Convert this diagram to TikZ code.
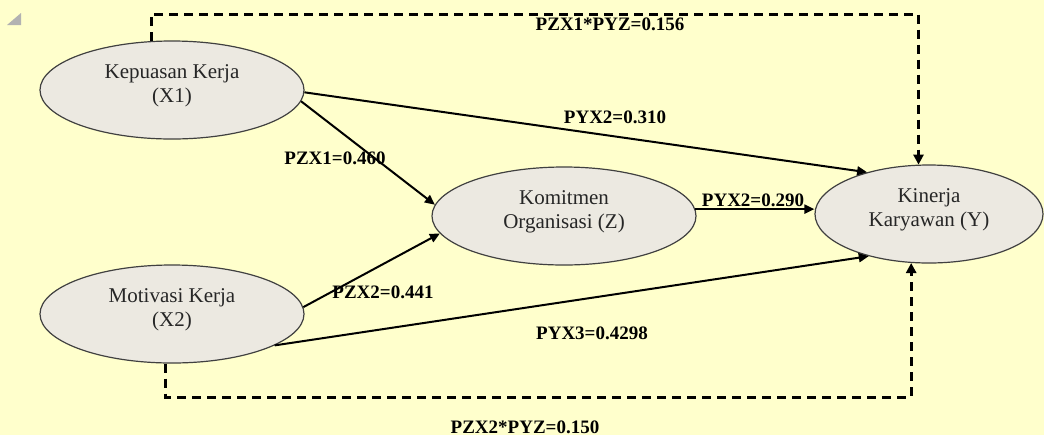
\documentclass[tikz,border=0pt]{standalone}
\usepackage{fontspec}
\setmainfont{Liberation Serif}
\usetikzlibrary{shapes.geometric,positioning,arrows.meta}
\definecolor{paleyellow}{RGB}{255,255,204}
\definecolor{ovalgrey}{RGB}{236,233,225}
\tikzset{
    varoval/.style={
        ellipse,
        draw=black!75,
        line width=0.6pt,
        fill=ovalgrey,
        minimum width=132pt,
        minimum height=49pt,
        inner sep=0pt,
        text depth=6.5pt,
        align=center,
        text=black!85,
        font=\fontsize{10.5}{12}\selectfont
    },
    patharrow/.style={
        line width=1pt,
        black,
        -{Triangle[length=5pt, width=4.5pt]}
    },
    % dashed indirect paths
    dasharrow/.style={
        line width=1.5pt,
        black,
        dash pattern=on 4.5pt off 3pt,
        -{Triangle[length=5pt, width=5pt]}
    },
    coef/.style={
        font=\fontsize{9.5}{11}\selectfont\bfseries,
        inner sep=0pt
    }
}

\begin{document}
\begin{tikzpicture}[x=0.5pt,y=-0.5pt]
    \useasboundingbox (0,0) rectangle (1044,435);
    \fill[paleyellow] (0,0) rectangle (1044,435);
    \fill[black!30] (7,25) -- (21,25) -- (21,13) -- cycle;

    \node[varoval] (x1) at (172,90) {Kepuasan Kerja\\(X1)};
    \node[varoval] (x2) at (172,314) {Motivasi Kerja\\(X2)};
    \node[varoval] (z) at (564,216) {Komitmen\\Organisasi (Z)};
    \node[varoval, minimum width=114pt] (y) at (929,214) {Kinerja\\Karyawan (Y)};

    \coordinate (topbend) at (500,14);
    \coordinate (botbend) at (500,397);

    \draw[patharrow] (x1.-5) -- (z.175);
    \draw[patharrow] (x1.-1) -- (y.146);
    \draw[patharrow] (x2.3) -- (z.188);
    \draw[patharrow] (x2.-17) -- (y.215);
    \draw[patharrow] (z.3) -- (z.3 -| y.west);
    \draw[dasharrow] (x1.113) |- (topbend) -| (y.102);
    \draw[dasharrow] (x2.263) |- (botbend) -| (y.250);

    \node[coef] (ind1) at (610,24) {PZX1*PYZ=0.156};
    \node[coef] (pyx1) at (615,117) {PYX2=0.310};
    \node[coef] (pzx1) at (335,158) {PZX1=0.460};
    \node[coef] (pyz) at (753,200) {PYX2=0.290};
    \node[coef] (pzx2) at (383,292) {PZX2=0.441};
    \node[coef] (pyx3) at (592,333) {PYX3=0.4298};
    \node[coef] (ind2) at (525,427) {PZX2*PYZ=0.150};
\end{tikzpicture}
\end{document}
